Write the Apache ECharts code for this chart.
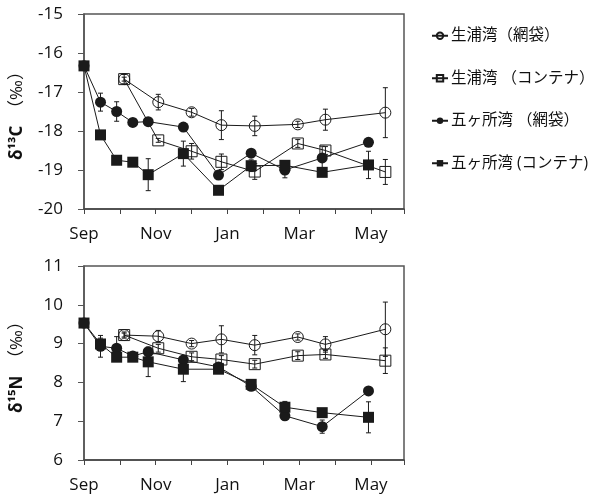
<!DOCTYPE html>
<html>
<head>
<meta charset="utf-8">
<script src="https://cdn.jsdelivr.net/npm/echarts@6/dist/echarts.min.js"></script>
<style>
  html, body { margin: 0; padding: 0; background: #fff; }
  #chart { width: 600px; height: 497px; }
</style>
</head>
<body>
<div id="chart"></div>
<script>
// month positions (0 = Sep 1st)
const monthLabels = ['Sep', 'Oct', 'Nov', 'Dec', 'Jan', 'Feb', 'Mar', 'Apr', 'May'];
const gokashoX = [0, 0.46, 0.91, 1.36, 1.79, 2.77, 3.75, 4.66, 5.6, 6.64, 7.93];
const ikouraX = [1.12, 2.07, 3.0, 3.83, 4.76, 5.96, 6.73, 8.4];

const seriesNames = ['生浦湾（網袋）', '生浦湾 （コンテナ）', '五ヶ所湾 （網袋）', '五ヶ所湾 (コンテナ)'];

// δ13C
const c13IkouraNet = [-16.67, -17.26, -17.52, -17.85, -17.87, -17.83, -17.71, -17.53];
const c13IkouraNetErr = [0.12, 0.2, 0.1, 0.37, 0.25, 0.08, 0.27, 0.64];
const c13IkouraBox = [-16.67, -18.24, -18.52, -18.79, -19.04, -18.32, -18.5, -19.05];
const c13IkouraBoxErr = [0.05, 0.05, 0.2, 0.2, 0.2, 0.1, 0.1, 0.32];
const c13GokaNet = [-16.33, -17.26, -17.5, -17.78, -17.76, -17.9, -19.13, -18.57, -19.0, -18.69, -18.29];
const c13GokaNetErr = [0, 0.23, 0.25, 0.08, 0.05, 0.05, 0.05, 0.05, 0.2, 0.3, 0.05];
const c13GokaBox = [-16.33, -18.1, -18.75, -18.8, -19.12, -18.58, -19.52, -18.89, -18.88, -19.06, -18.87];
const c13GokaBoxErr = [0, 0.05, 0.1, 0.05, 0.41, 0.32, 0.05, 0.15, 0.1, 0.05, 0.35];

// δ15N
const n15IkouraNet = [9.22, 9.19, 9.0, 9.11, 8.96, 9.17, 8.98, 9.37];
const n15IkouraNetErr = [0.08, 0.15, 0.08, 0.35, 0.25, 0.08, 0.2, 0.7];
const n15IkouraBox = [9.22, 8.88, 8.66, 8.59, 8.47, 8.69, 8.72, 8.56];
const n15IkouraBoxErr = [0.05, 0.1, 0.1, 0.1, 0.1, 0.1, 0.1, 0.33];
const n15GokaNet = [9.53, 8.93, 8.88, 8.68, 8.79, 8.58, 8.4, 7.9, 7.14, 6.86, 7.78];
const n15GokaNetErr = [0, 0.28, 0.3, 0.05, 0.05, 0.05, 0.05, 0.05, 0.08, 0.17, 0.05];
const n15GokaBox = [9.53, 8.99, 8.65, 8.65, 8.53, 8.34, 8.34, 7.95, 7.36, 7.22, 7.1];
const n15GokaBoxErr = [0, 0.15, 0.05, 0.05, 0.38, 0.32, 0.05, 0.08, 0.15, 0.08, 0.4];

const ink = '#1a1a1a';
const fontFamily = '"Open Sans", "Noto Sans CJK JP", sans-serif';

function zip(xs, ys) {
  return xs.map((x, i) => [x, ys[i]]);
}

const markerStyles = [
  { symbol: 'circle', itemStyle: { color: 'rgba(255,255,255,0)', borderColor: ink, borderWidth: 1 } },
  { symbol: 'rect', itemStyle: { color: 'rgba(255,255,255,0)', borderColor: ink, borderWidth: 1 } },
  { symbol: 'circle', itemStyle: { color: ink, borderColor: ink, borderWidth: 0 } },
  { symbol: 'rect', itemStyle: { color: ink, borderColor: ink, borderWidth: 0 } }
];

function lineSeries(idx, xs, ys, axis) {
  return {
    type: 'line',
    name: seriesNames[idx],
    xAxisIndex: axis,
    yAxisIndex: axis,
    data: zip(xs, ys),
    symbol: markerStyles[idx].symbol,
    symbolSize: 11,
    itemStyle: markerStyles[idx].itemStyle,
    lineStyle: { color: ink, width: 1 },
    emphasis: { disabled: true },
    z: 3 + idx
  };
}

function errorSeries(xs, ys, errs, axis) {
  return {
    type: 'custom',
    xAxisIndex: axis,
    yAxisIndex: axis,
    silent: true,
    z: 2,
    data: xs.map((x, i) => [x, ys[i] - errs[i], ys[i] + errs[i]]).filter((d, i) => errs[i] > 0),
    encode: { x: 0, y: [1, 2] },
    renderItem: function (params, api) {
      const lo = api.coord([api.value(0), api.value(1)]);
      const hi = api.coord([api.value(0), api.value(2)]);
      const w = 2.5;
      const style = { stroke: ink, lineWidth: 1 };
      return {
        type: 'group',
        children: [
          { type: 'line', shape: { x1: lo[0], y1: lo[1], x2: hi[0], y2: hi[1] }, style },
          { type: 'line', shape: { x1: lo[0] - w, y1: lo[1], x2: lo[0] + w, y2: lo[1] }, style },
          { type: 'line', shape: { x1: hi[0] - w, y1: hi[1], x2: hi[0] + w, y2: hi[1] }, style }
        ]
      };
    }
  };
}

function xAxis(gridIndex) {
  return {
    type: 'value',
    gridIndex,
    min: 0,
    max: 8.92,
    interval: 1,
    axisLine: { lineStyle: { color: '#444', width: 1.5 } },
    axisTick: { length: 5, lineStyle: { color: '#444' } },
    splitLine: { show: false },
    axisLabel: {
      margin: 17,
      color: '#111',
      fontSize: 17,
      fontFamily,
      formatter: v => (Number.isInteger(v) && v % 2 === 0 && v < monthLabels.length) ? monthLabels[v] : ''
    }
  };
}

function yAxis(gridIndex, min, max, label) {
  return {
    type: 'value',
    gridIndex,
    min,
    max,
    interval: 1,
    name: label,
    nameLocation: 'middle',
    nameRotate: 90,
    nameGap: 58,
    nameTextStyle: {
      color: '#111',
      fontSize: 17,
      fontFamily,
      rich: {
        b: { fontWeight: 'bold', fontSize: 17, fontFamily, color: '#111' }
      }
    },
    axisLine: { show: true, lineStyle: { color: '#555', width: 1.5 } },
    axisTick: { show: true, length: 6, lineStyle: { color: '#555' } },
    splitLine: { show: false },
    axisLabel: { margin: 21, color: '#111', fontSize: 17, fontFamily }
  };
}

const chart = echarts.init(document.getElementById('chart'));

chart.setOption({
  animation: false,
  backgroundColor: '#fff',
  grid: [
    { left: 84, top: 14, width: 320, height: 195, show: true, borderColor: '#555', borderWidth: 1.5 },
    { left: 84, top: 266, width: 320, height: 194, show: true, borderColor: '#555', borderWidth: 1.5 }
  ],
  legend: {
    data: seriesNames,
    orient: 'vertical',
    left: 426,
    top: 23,
    itemWidth: 16,
    itemHeight: 8,
    itemGap: 27,
    textStyle: { color: '#111', fontSize: 15.5, fontFamily, padding: [0, 0, 0, -2] },
    selectedMode: false
  },
  xAxis: [xAxis(0), xAxis(1)],
  yAxis: [
    yAxis(0, -20, -15, '{b|δ¹³C}  （‰）'),
    yAxis(1, 6, 11, '{b|δ¹⁵N}  （‰）')
  ],
  series: [
    errorSeries(ikouraX, c13IkouraNet, c13IkouraNetErr, 0),
    errorSeries(ikouraX, c13IkouraBox, c13IkouraBoxErr, 0),
    errorSeries(gokashoX, c13GokaNet, c13GokaNetErr, 0),
    errorSeries(gokashoX, c13GokaBox, c13GokaBoxErr, 0),
    lineSeries(0, ikouraX, c13IkouraNet, 0),
    lineSeries(1, ikouraX, c13IkouraBox, 0),
    lineSeries(2, gokashoX, c13GokaNet, 0),
    lineSeries(3, gokashoX, c13GokaBox, 0),

    errorSeries(ikouraX, n15IkouraNet, n15IkouraNetErr, 1),
    errorSeries(ikouraX, n15IkouraBox, n15IkouraBoxErr, 1),
    errorSeries(gokashoX, n15GokaNet, n15GokaNetErr, 1),
    errorSeries(gokashoX, n15GokaBox, n15GokaBoxErr, 1),
    lineSeries(0, ikouraX, n15IkouraNet, 1),
    lineSeries(1, ikouraX, n15IkouraBox, 1),
    lineSeries(2, gokashoX, n15GokaNet, 1),
    lineSeries(3, gokashoX, n15GokaBox, 1)
  ]
});
</script>
</body>
</html>
